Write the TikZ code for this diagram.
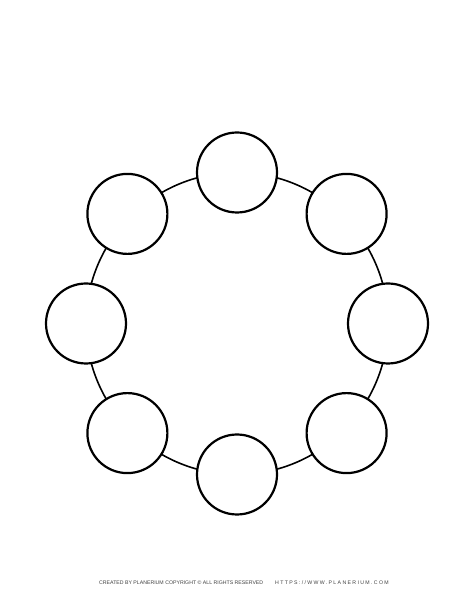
\documentclass[tikz,border=0pt]{standalone}
\usepackage{fontspec}
\setsansfont{Liberation Sans}
\begin{document}
\begin{tikzpicture}[x=1pt,y=1pt,
		seat/.style={circle, draw=black, line width=2.2pt, fill=white, minimum size=80pt, inner sep=0pt},
		credit/.style={font=\sffamily\fontsize{5.2}{6}\selectfont, text=black!75, inner sep=0pt}]
		\useasboundingbox (0,0) rectangle (474,613);
		% ring behind the seats
		\draw[line width=1.6pt] (237,289.5) circle (151);
		\foreach \i/\r in {0/151,1/155,2/151,3/155,4/151,5/155,6/151,7/155}
			\node[seat] (seat\i) at ({237+\r*cos(90-45*\i)},{289.5+\r*sin(90-45*\i)}) {};
		\node[credit, anchor=base west] (made) at (99,28) {CREATED BY PLANERIUM COPYRIGHT \textcopyright{} ALL RIGHTS RESERVED};
		\node[credit, anchor=base east] (web) at (389,28) {\addfontfeature{LetterSpace=26}HTTPS://WWW.PLANERIUM.COM};
	\end{tikzpicture}
\end{document}
